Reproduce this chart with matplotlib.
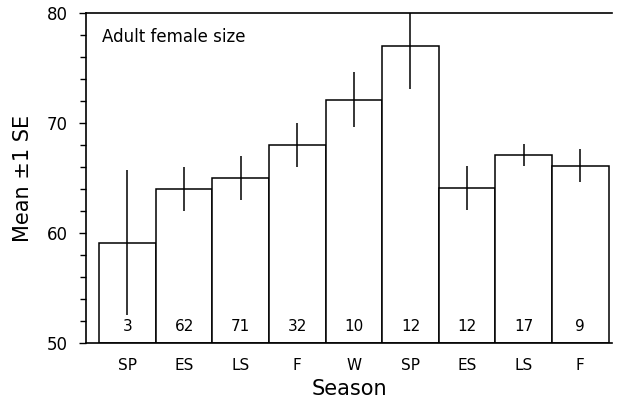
import matplotlib.pyplot as plt
from matplotlib.ticker import MultipleLocator

# season means, SE and sample sizes
seasons = ['SP', 'ES', 'LS', 'F', 'W', 'SP', 'ES', 'LS', 'F']
means = [59.1, 64.0, 65.0, 68.0, 72.1, 77.0, 64.1, 67.1, 66.1]
se = [6.6, 2.0, 2.0, 2.0, 2.5, 3.9, 2.0, 1.0, 1.5]
counts = [3, 62, 71, 32, 10, 12, 12, 17, 9]

fig = plt.figure(figsize=(6.2, 4.04), dpi=100)
ax = fig.add_axes([0.139, 0.151, 0.848, 0.817])

x = range(len(seasons))
ax.bar(x, [m - 50 for m in means], bottom=50, width=1.0,
       color='white', edgecolor='black', linewidth=1.1)
ax.errorbar(x, means, yerr=se, fmt='none', ecolor='black', elinewidth=1.1, capsize=0)

for i, n in enumerate(counts):
	ax.text(i, 51.5, str(n), ha='center', va='center', fontsize=11)

ax.text(-0.45, 77.8, 'Adult female size', ha='left', va='center', fontsize=12)

ax.set_xlim(-0.73, 8.56)
ax.set_ylim(50, 80)
ax.yaxis.set_major_locator(MultipleLocator(10))
ax.yaxis.set_minor_locator(MultipleLocator(2))
ax.set_xticks(list(x))
ax.set_xticklabels(seasons, fontsize=11)
ax.tick_params(axis='x', length=0, pad=11)
ax.tick_params(axis='y', which='major', length=5, width=1, labelsize=12, pad=8)
ax.tick_params(axis='y', which='minor', length=4, width=1)

for s in ['left', 'top', 'bottom']:
	ax.spines[s].set_linewidth(1.2)
ax.spines['right'].set_visible(False)

ax.set_xlabel('Season', fontsize=15, labelpad=4)
ax.set_ylabel('Mean \u00b11 SE', fontsize=15, labelpad=10)

fig.savefig('out.png', dpi=100)
